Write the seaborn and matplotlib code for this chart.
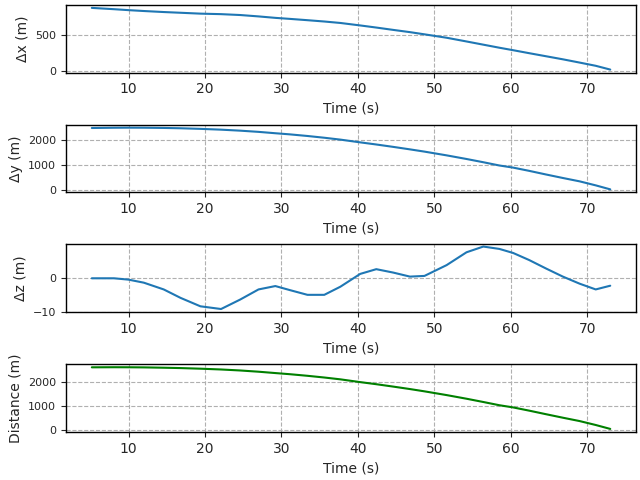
import pandas as pd
import matplotlib
matplotlib.use("Agg")
import matplotlib.pyplot as plt
import seaborn as sns

# Data
time = [5.2, 8.1, 10.0, 12.0, 14.6, 16.8, 19.4, 22.1, 24.6, 27.0, 29.2, 31.1,
        33.4, 35.6, 37.7, 40.3, 42.4, 44.6, 46.8, 48.7, 51.6, 54.2, 56.4, 58.5,
        60.3, 62.4, 64.6, 66.8, 69.0, 71.1, 73.0]
dx = [869, 851, 838, 826, 812, 802, 790, 783, 771, 752, 732, 718,
      700, 682, 662, 628, 599, 567, 536, 506, 459, 408, 364, 322,
      288, 247, 205, 163, 118, 74, 22]
dy = [2475, 2485, 2488, 2486, 2477, 2464, 2440, 2408, 2368, 2320, 2265, 2220,
      2155, 2085, 2010, 1900, 1815, 1720, 1620, 1530, 1380, 1235, 1105, 975,
      890, 760, 615, 475, 340, 180, 20]
dz = [-0.1, -0.1, -0.5, -1.4, -3.4, -5.9, -8.4, -9.2, -6.4, -3.4, -2.4, -3.6,
      -5.0, -5.0, -2.6, 1.2, 2.6, 1.6, 0.4, 0.6, 3.8, 7.6, 9.3, 8.6,
      7.4, 5.3, 2.8, 0.4, -1.7, -3.4, -2.3]
dist = [2623, 2627, 2625, 2620, 2606, 2591, 2565, 2532, 2490, 2438, 2381, 2333,
        2266, 2194, 2117, 2000, 1912, 1812, 1708, 1612, 1454, 1301, 1163, 1027,
        935, 799, 649, 502, 360, 195, 30]

df = pd.DataFrame({"t": time, "dx": dx, "dy": dy, "dz": dz, "dist": dist})

sns.set_style("ticks")
plt.rcParams['font.family'] = ['DejaVu Sans']

fig, axs = plt.subplots(4, 1, figsize=(6.4, 4.8), dpi=100)

panels = [("dx", "Δx (m)", "#1f77b4"),
          ("dy", "Δy (m)", "#1f77b4"),
          ("dz", "Δz (m)", "#1f77b4"),
          ("dist", "Distance (m)", "green")]

for ax, (col, label, c) in zip(axs, panels):
    sns.lineplot(data=df, x="t", y=col, ax=ax, color=c, linewidth=1.5)
    ax.set_xlabel("Time (s)")
    ax.set_ylabel(label)
    ax.grid(True, linestyle="--", color="#b0b0b0", linewidth=0.8)
    ax.tick_params(axis="y", labelsize=8)
    for s in ax.spines.values():
        s.set_color("black")
        s.set_linewidth(1.0)

axs[2].set_ylim(-10.15, 9.95)

plt.subplots_adjust(left=0.103, right=0.994, top=0.99, bottom=0.1, hspace=0.765)
plt.savefig("out.png", dpi=100)
